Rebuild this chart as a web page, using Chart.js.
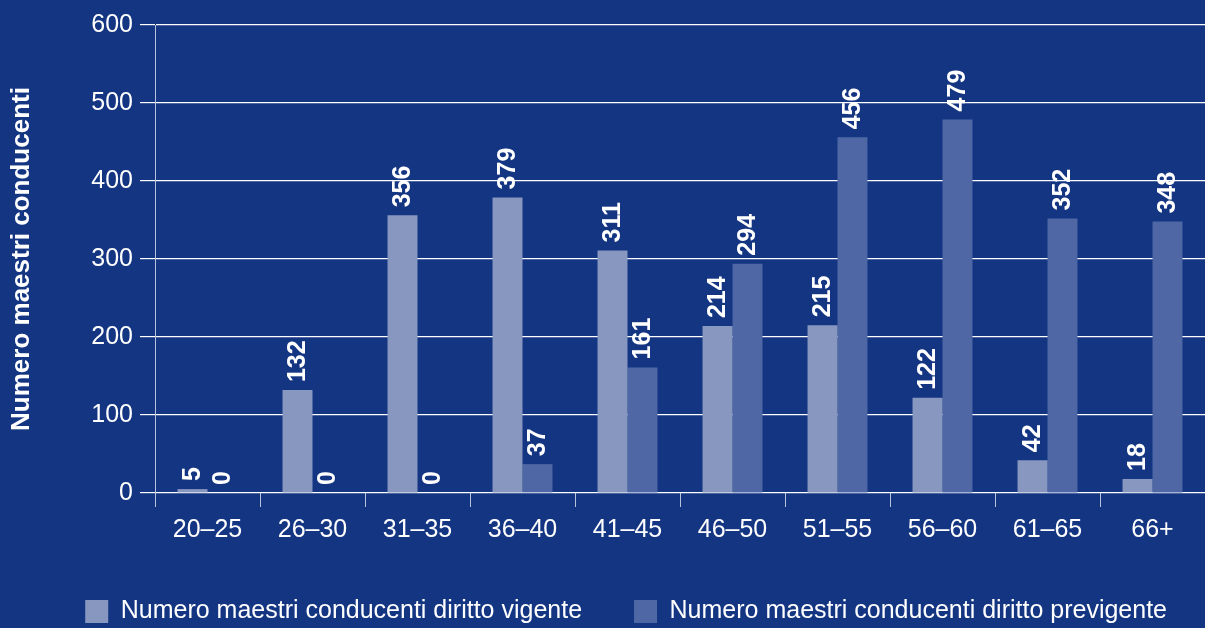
<!DOCTYPE html>
<html>
<head>
<meta charset="utf-8">
<script src="https://cdn.jsdelivr.net/npm/chart.js@4"></script>
<style>
  html, body { margin: 0; padding: 0; background: #133582; }
  #wrap { width: 1205px; height: 628px; }
</style>
</head>
<body>
<div id="wrap"><canvas id="chart"></canvas></div>
<script>
// dati del grafico
var fasceEta = ["20–25", "26–30", "31–35", "36–40", "41–45", "46–50", "51–55", "56–60", "61–65", "66+"];
var dirittoVigente = [5, 132, 356, 379, 311, 214, 215, 122, 42, 18];
var dirittoPrevigente = [0, 0, 0, 37, 161, 294, 456, 479, 352, 348];
var yTicks = [0, 100, 200, 300, 400, 500, 600];

var FONT = "'Liberation Sans', Arial, sans-serif";

// etichette ruotate sopra le barre
var etichette = {
  id: "etichette",
  afterDatasetsDraw: function (chart) {
    var ctx = chart.ctx;
    chart.data.datasets.forEach(function (ds, i) {
      var meta = chart.getDatasetMeta(i);
      meta.data.forEach(function (bar, j) {
        ctx.save();
        ctx.translate(bar.x, bar.y - 8);
        ctx.rotate(-Math.PI / 2);
        ctx.font = "bold 25px " + FONT;
        ctx.fillStyle = "#ffffff";
        ctx.textAlign = "left";
        ctx.textBaseline = "middle";
        ctx.fillText(String(ds.data[j]), 0, 1);
        ctx.restore();
      });
    });
  }
};

// sposta un po' la legenda a destra
var spostaLegenda = {
  id: "spostaLegenda",
  afterLayout: function (chart) {
    if (chart.legend) {
      chart.legend.left += 14;
      chart.legend.right += 14;
    }
  }
};

var ctx = document.getElementById("chart").getContext("2d");
var chart = new Chart(ctx, {
  type: "bar",
  data: {
    labels: fasceEta,
    datasets: [
      {
        label: "Numero maestri conducenti diritto vigente",
        data: dirittoVigente,
        backgroundColor: "#8797c0",
        categoryPercentage: 0.571,
        barPercentage: 1.0
      },
      {
        label: "Numero maestri conducenti diritto previgente",
        data: dirittoPrevigente,
        backgroundColor: "#4f68a5",
        categoryPercentage: 0.571,
        barPercentage: 1.0
      }
    ]
  },
  plugins: [etichette, spostaLegenda],
  options: {
    responsive: true,
    maintainAspectRatio: false,
    animation: false,
    layout: { padding: { top: 25, right: 0, left: 0, bottom: -6 } },
    plugins: {
      tooltip: { enabled: false },
      legend: {
        position: "bottom",
        align: "end",
        labels: {
          color: "#ffffff",
          boxWidth: 23,
          boxHeight: 23,
          padding: 52,
          font: { family: FONT, size: 25 }
        }
      }
    },
    scales: {
      x: {
        afterFit: function (axis) { axis.height = 54; },
        grid: {
          display: true,
          drawOnChartArea: false,
          drawTicks: true,
          tickLength: 14,
          color: "rgba(255,255,255,0.7)",
          lineWidth: 1
        },
        border: { display: false },
        ticks: {
          color: "#ffffff",
          padding: 8,
          font: { family: FONT, size: 25 }
        }
      },
      y: {
        min: 0,
        max: 600,
        afterFit: function (axis) { axis.width = 155; },
        afterBuildTicks: function (axis) {
          axis.ticks = yTicks.map(function (v) { return { value: v }; });
        },
        grid: {
          color: "#ffffff",
          lineWidth: 1.2,
          tickLength: 15
        },
        border: { display: true, color: "rgba(255,255,255,0.7)", width: 1 },
        ticks: {
          color: "#ffffff",
          padding: 7,
          font: { family: FONT, size: 25 }
        },
        title: {
          display: true,
          text: "Numero maestri conducenti",
          color: "#ffffff",
          padding: { top: 6, bottom: 0 },
          font: { family: FONT, size: 26, weight: "bold" }
        }
      }
    }
  }
});
</script>
</body>
</html>
